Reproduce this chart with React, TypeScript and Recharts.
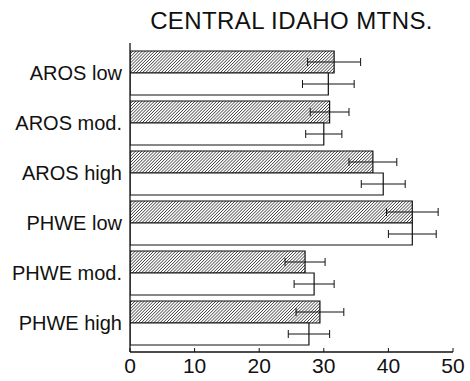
import { BarChart, Bar, XAxis, YAxis, ErrorBar } from 'recharts'

// Categories (top to bottom) and the two series
const categories = ['AROS low', 'AROS mod.', 'AROS high', 'PHWE low', 'PHWE mod.', 'PHWE high']
const hatchedValues = [31.6, 30.9, 37.6, 43.7, 27.1, 29.4]
const hatchedErrors = [4.1, 3.0, 3.7, 4.0, 3.1, 3.7]
const openValues = [30.7, 30.0, 39.2, 43.7, 28.5, 27.7]
const openErrors = [4.0, 2.8, 3.4, 3.7, 3.1, 3.2]
const xTicks = [0, 10, 20, 30, 40, 50]

const data = categories.map((cat, i) => ({
  cat,
  hatched: hatchedValues[i],
  hatchedErr: hatchedErrors[i],
  open: openValues[i],
  openErr: openErrors[i],
}))

const FONT = '"Liberation Sans", Arial, Helvetica, sans-serif'
const INK = '#111'

export default function App() {
  return (
    <div style={{ position: 'absolute', left: 0, top: 0, width: 470, height: 381, background: '#fff', fontFamily: FONT }}>
      {/* title */}
      <div
        style={{
          position: 'absolute',
          left: 130,
          width: 323,
          top: 9,
          textAlign: 'center',
          fontSize: 24,
          lineHeight: '24px',
          letterSpacing: '0.4px',
          color: INK,
          whiteSpace: 'nowrap',
        }}
      >
        CENTRAL IDAHO MTNS.
      </div>
      <BarChart
        width={470}
        height={381}
        data={data}
        layout="vertical"
        margin={{ top: 43, right: 17, left: 6, bottom: 4 }}
        barCategoryGap={3}
        barGap={0}
        style={{ position: 'absolute', left: 0, top: 0 }}
      >
        <defs>
          <pattern id="hatch" patternUnits="userSpaceOnUse" width={2.2} height={2.2} patternTransform="rotate(45)">
            <rect width={2.2} height={2.2} fill="#fff" />
            <line x1={0} y1={0} x2={0} y2={2.2} stroke="#000" strokeWidth={1.1} />
          </pattern>
        </defs>

        {/* bottom axis, ticks pointing inward */}
        <XAxis
          type="number"
          domain={[0, 50]}
          ticks={xTicks}
          allowDataOverflow
          height={25}
          tickSize={-4}
          tickMargin={10}
          axisLine={{ stroke: INK, strokeWidth: 1.3 }}
          tickLine={{ stroke: INK }}
          tick={{ fontSize: 21, fill: INK, fontFamily: FONT }}
        />
        {/* top border with inward ticks */}
        <XAxis
          xAxisId="top"
          orientation="top"
          type="number"
          domain={[0, 50]}
          ticks={xTicks}
          height={0}
          tickSize={-4}
          tick={false}
          axisLine={{ stroke: INK, strokeWidth: 1.3 }}
          tickLine={{ stroke: INK }}
        />
        <YAxis
          type="category"
          dataKey="cat"
          width={124}
          padding={{ top: 5, bottom: 4 }}
          tickLine={false}
          tickSize={0}
          tickMargin={8}
          axisLine={{ stroke: INK, strokeWidth: 1.3 }}
          tick={{ fontSize: 20, fill: INK, fontFamily: FONT }}
        />
        {/* right border with inward ticks */}
        <YAxis
          yAxisId="r"
          orientation="right"
          type="category"
          dataKey="cat"
          width={0}
          padding={{ top: 5, bottom: 4 }}
          tickSize={-4}
          tick={false}
          axisLine={{ stroke: INK, strokeWidth: 1.3 }}
          tickLine={{ stroke: INK }}
        />

        <Bar dataKey="hatched" fill="url(#hatch)" stroke={INK} strokeWidth={1.2} isAnimationActive={false}>
          <ErrorBar dataKey="hatchedErr" direction="x" width={4} stroke={INK} strokeWidth={1} />
        </Bar>
        <Bar dataKey="open" fill="#fff" stroke={INK} strokeWidth={1.2} isAnimationActive={false}>
          <ErrorBar dataKey="openErr" direction="x" width={4} stroke={INK} strokeWidth={1} />
        </Bar>
      </BarChart>
    </div>
  )
}
